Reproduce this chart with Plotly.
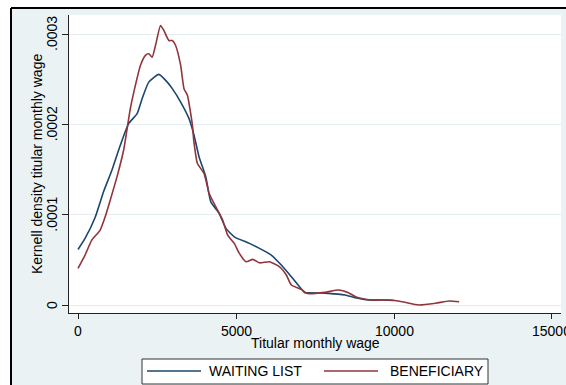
import plotly.graph_objects as go

# ---- data ----
series_names = ["WAITING LIST", "BENEFICIARY"]

wait_x = [0, 223, 541, 806, 1073, 1338, 1602, 1870, 2029, 2239, 2558, 2825, 2984, 3249,
          3513, 3672, 3832, 4045, 4204, 4469, 4682, 4946, 5424, 5743, 6115, 6434, 6752,
          7176, 7280, 7919, 8450, 8768, 9195, 9724, 10000]
wait_y = [6.15e-5, 7.37e-5, 9.69e-5, 1.252e-4, 1.492e-4, 1.768e-4, 2.008e-4, 2.118e-4,
          2.284e-4, 2.467e-4, 2.553e-4, 2.467e-4, 2.395e-4, 2.247e-4, 2.063e-4, 1.879e-4,
          1.639e-4, 1.418e-4, 1.141e-4, 1.013e-4, 8.48e-5, 7.55e-5, 6.82e-5, 6.27e-5,
          5.53e-5, 4.42e-5, 3.13e-5, 1.36e-5, 1.36e-5, 1.29e-5, 1.105e-5, 8.1e-6, 5.5e-6,
          5.5e-6, 5.0e-6]

ben_x = [0, 223, 436, 701, 860, 1019, 1233, 1443, 1656, 1815, 1975, 2134, 2239, 2347,
         2452, 2612, 2717, 2876, 2984, 3089, 3249, 3354, 3462, 3621, 3663, 3780, 3991,
         4150, 4363, 4577, 4736, 4946, 5106, 5319, 5532, 5743, 6061, 6380, 6593, 6752,
         7071, 7230, 7813, 8240, 8558, 8822, 9300, 9883, 10256, 10788, 11316, 11743, 12062]
ben_y = [4.06e-5, 5.53e-5, 7.18e-5, 8.29e-5, 9.76e-5, 1.16e-4, 1.418e-4, 1.713e-4,
         2.174e-4, 2.431e-4, 2.652e-4, 2.763e-4, 2.781e-4, 2.744e-4, 2.873e-4, 3.094e-4,
         3.039e-4, 2.928e-4, 2.928e-4, 2.873e-4, 2.652e-4, 2.395e-4, 2.321e-4, 1.989e-4,
         1.823e-4, 1.566e-4, 1.455e-4, 1.234e-4, 1.086e-4, 9.39e-5, 7.74e-5, 6.82e-5,
         5.71e-5, 4.78e-5, 5.05e-5, 4.67e-5, 4.78e-5, 4.23e-5, 3.32e-5, 2.21e-5, 1.73e-5,
         1.29e-5, 1.4e-5, 1.66e-5, 1.36e-5, 8.5e-6, 5.5e-6, 5.5e-6, 3.6e-6, 0.0, 1.9e-6,
         4.4e-6, 3.6e-6]

x_ticks = [0, 5000, 10000, 15000]
x_ticktext = ["0", "5000", "10000", "15000"]
y_ticks = [0, 0.0001, 0.0002, 0.0003]
y_ticktext = ["0", ".0001", ".0002", ".0003"]

x_title = "Titular monthly wage"
y_title = "Kernell density titular monthly wage"

colors = ["#1a476f", "#90353b"]
BG = "#EAF2F3"
FONT = "Liberation Sans, Arial, sans-serif"

# ---- geometry ----
W, H = 566, 385
ML, MR, MT, MB = 69, 5, 15, 72
PW, PH = W - ML - MR, H - MT - MB


def px(xp):
    return (xp - ML) / PW


def py(yp):
    return (H - MB - yp) / PH


fig = go.Figure()
fig.add_trace(go.Scatter(x=wait_x, y=wait_y, mode="lines", name=series_names[0],
                         line=dict(color=colors[0], width=1.6, shape="spline", smoothing=0.5),
                         showlegend=False))
fig.add_trace(go.Scatter(x=ben_x, y=ben_y, mode="lines", name=series_names[1],
                         line=dict(color=colors[1], width=1.6, shape="spline", smoothing=0.5),
                         showlegend=False))

shapes = [
    # white strips outside the graph border (top and left)
    dict(type="rect", xref="paper", yref="paper", layer="below",
         x0=px(-20), x1=px(W + 20), y0=py(8), y1=py(-20),
         fillcolor="white", line=dict(width=0)),
    dict(type="rect", xref="paper", yref="paper", layer="below",
         x0=px(-20), x1=px(11), y0=py(H + 20), y1=py(-20),
         fillcolor="white", line=dict(width=0)),
    # graph border (top and left)
    dict(type="line", xref="paper", yref="paper",
         x0=px(11), x1=px(W + 20), y0=py(8), y1=py(8),
         line=dict(color="#000000", width=2)),
    dict(type="line", xref="paper", yref="paper",
         x0=px(11), x1=px(11), y0=py(8), y1=py(H + 20),
         line=dict(color="#000000", width=2)),
    # legend box
    dict(type="rect", xref="paper", yref="paper",
         x0=px(142), x1=px(488), y0=py(384), y1=py(359),
         fillcolor="white", line=dict(color="#333333", width=1)),
    dict(type="line", xref="paper", yref="paper",
         x0=px(147), x1=px(201), y0=py(371), y1=py(371),
         line=dict(color=colors[0], width=1.6)),
    dict(type="line", xref="paper", yref="paper",
         x0=px(324), x1=px(378), y0=py(371), y1=py(371),
         line=dict(color=colors[1], width=1.6)),
]

tfont = dict(family=FONT, size=14, color="#000")
annotations = [
    dict(text=series_names[0], xref="paper", yref="paper", x=px(207), y=py(371),
         xanchor="left", yanchor="middle", showarrow=False, font=tfont),
    dict(text=series_names[1], xref="paper", yref="paper", x=px(388), y=py(371),
         xanchor="left", yanchor="middle", showarrow=False, font=tfont),
    dict(text=x_title, xref="paper", yref="paper", x=px(315), y=py(343),
         xanchor="center", yanchor="middle", showarrow=False, font=tfont),
    dict(text=y_title, xref="paper", yref="paper", x=px(37), y=py(164),
         xanchor="center", yanchor="middle", showarrow=False, textangle=-90, font=tfont),
]
# tick labels placed on the axis scales
for v, t in zip(x_ticks, x_ticktext):
    annotations.append(dict(text=t, xref="x", yref="paper", x=v, y=py(331),
                            xanchor="center", yanchor="middle", showarrow=False,
                            font=tfont))
for v, t in zip(y_ticks, y_ticktext):
    annotations.append(dict(text=t, xref="paper", yref="y", x=px(52), y=v,
                            xanchor="center", yanchor="middle", showarrow=False,
                            textangle=-90, font=tfont))

fig.update_layout(
    width=W, height=H,
    margin=dict(l=ML, r=MR, t=MT, b=MB, autoexpand=False),
    paper_bgcolor=BG, plot_bgcolor="white",
    shapes=shapes, annotations=annotations,
    font=tfont,
    xaxis=dict(range=[-285, 15285], tickvals=x_ticks, showticklabels=False,
               showgrid=False, zeroline=False, showline=True, linecolor="#222",
               linewidth=1, ticks="outside", ticklen=5, tickcolor="#222"),
    yaxis=dict(range=[-0.00000886, 0.00032103], tickvals=y_ticks, showticklabels=False,
               showgrid=True, gridcolor="#E4EDEF", gridwidth=1, zeroline=False,
               showline=True, linecolor="#222", linewidth=1, ticks="outside",
               ticklen=6, tickcolor="#222"),
)

fig.write_html("out.html")
